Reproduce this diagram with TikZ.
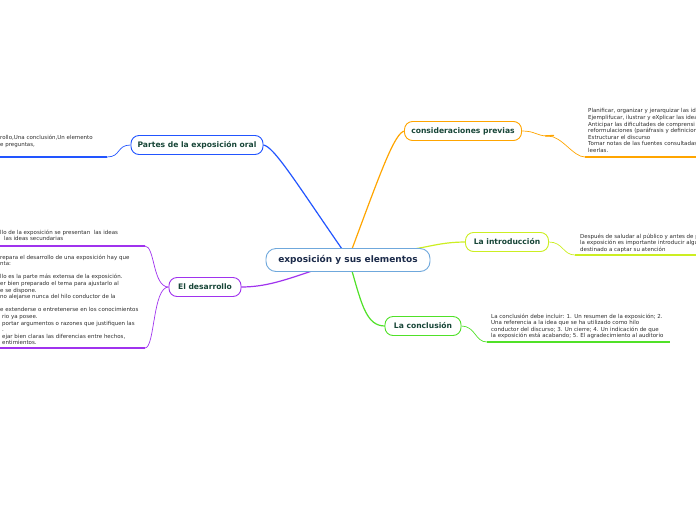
\documentclass[tikz,border=0pt]{standalone}
\usepackage{fontspec}
\setmainfont{DejaVu Sans}
\usetikzlibrary{positioning}
\definecolor{mmblue}{RGB}{34,85,255}
\definecolor{mmorange}{RGB}{255,165,0}
\definecolor{mmlime}{RGB}{204,238,34}
\definecolor{mmgreen}{RGB}{80,225,40}
\definecolor{mmpurple}{RGB}{160,51,238}
\definecolor{mmroot}{RGB}{111,168,220}
\definecolor{mmtitle}{RGB}{24,70,56}
\definecolor{mmnavy}{RGB}{28,43,74}
\definecolor{mmtext}{RGB}{45,45,45}
\tikzset{
  root/.style={draw=mmroot,line width=.9pt,rounded corners=10pt,fill=white,
    minimum width=164pt,minimum height=23pt,text=mmnavy,inner sep=0pt,
    font=\fontsize{9}{10}\selectfont\bfseries},
  topic/.style={draw=#1,line width=.9pt,rounded corners=8pt,fill=white,
    minimum height=19pt,text=mmtitle,inner sep=0pt,
    font=\fontsize{7.6}{8}\selectfont\bfseries},
  notes/.style={anchor=north west,inner sep=0pt,align=left,text=mmtext,
    font=\fontsize{5.5}{6.6}\selectfont},
  branch/.style={draw=#1,line width=1.2pt},
  twig/.style={draw=#1,line width=.7pt},
  underline/.style={draw=#1,line width=1.7pt}
}
\begin{document}
\begin{tikzpicture}[x=1pt,y=-1pt]
\useasboundingbox (0,0) rectangle (696,520);
\clip (0,0) rectangle (696,520);

% main branches
\draw[branch=mmblue] (342,249) .. controls +(-45,-65) and +(10,0) .. (263,145);
\draw[branch=mmorange] (352,249) .. controls +(28,-75) and +(-10,0) .. (405,131);
\draw[branch=mmlime] (414,249) .. controls +(18,-3) and +(-22,0) .. (466,242);
\draw[branch=mmgreen] (352,271) .. controls +(10,35) and +(-18,0) .. (385,326);
\draw[branch=mmpurple] (315,270) .. controls +(-30,10) and +(25,0) .. (241,287);

\node[root] (root) at (348,260) {exposición y sus elementos};
\node[topic=mmblue,minimum width=132pt] (partes) at (197,145) {Partes de la exposición oral};
\node[topic=mmorange,minimum width=117pt] (previas) at (463,131) {consideraciones previas};
\node[topic=mmlime,minimum width=83pt] (intro) at (507,242) {La introducción};
\node[topic=mmgreen,minimum width=76pt] (concl) at (423,326) {La conclusión};
\node[topic=mmpurple,minimum width=72pt] (desarr) at (205,287) {El desarrollo};

% underline ends
\coordinate (pL) at (107,157); \coordinate (pE) at (-2,157);
\coordinate (cM) at (548,136); \coordinate (cL) at (585,157); \coordinate (cE) at (698,157);
\coordinate (iL) at (575,255); \coordinate (iE) at (698,255);
\coordinate (kL) at (487,342); \coordinate (kE) at (670,342);
\coordinate (dA) at (145,246); \coordinate (dAE) at (-2,246);
\coordinate (dB) at (145,348); \coordinate (dBE) at (-2,348);

\draw[twig=mmblue] (partes.west) .. controls +(-14,0) and +(14,0) .. (pL);
\draw[underline=mmblue] (pL) -- (pE);
\draw[twig=mmorange] (previas.east) .. controls +(14,0) and +(-12,0) .. (cM)
  .. controls +(14,0) and +(-12,0) .. (cL);
\draw[line width=1.4pt,mmorange] ([xshift=-3pt]cM) -- ([xshift=6pt,yshift=.5pt]cM);
\draw[underline=mmorange] (cL) -- (cE);
\draw[twig=mmlime] (intro.east) .. controls +(14,0) and +(-12,0) .. (iL);
\draw[underline=mmlime] (iL) -- (iE);
\draw[twig=mmgreen] (concl.east) .. controls +(14,0) and +(-12,0) .. (kL);
\draw[underline=mmgreen] (kL) -- (kE);
\draw[twig=mmpurple] (desarr.west) .. controls +(-16,0) and +(10,0) .. (dA);
\draw[twig=mmpurple] (desarr.west) .. controls +(-16,0) and +(10,0) .. (dB);
\draw[underline=mmpurple] (dA) -- (dAE);
\draw[underline=mmpurple] (dB) -- (dBE);

% notes
\node[notes,font=\fontsize{5.5}{7.5}\selectfont] (partesTxt) at (0,134.5)
  {rollo,Una conclusión,Un elemento\\e preguntas,};
\node[notes] (previasTxt) at (588,108.5)
  {Planificar, organizar y jerarquizar las id\\
   Ejemplifucar, ilustrar y eXplicar las idea\\
   Anticipar las dificultades de comprensi\\
   reformulaciones (paráfrasis y definicior\\
   Estructurar el discurso\\
   Tomar notas de las fuentes consultadas\\
   leerlas.};
\node[notes] (introTxt) at (580,233.5)
  {Después de saludar al público y antes de p\\
   la exposición es importante introducir algu\\
   destinado a captar su atención};
\node[notes] (conclTxt) at (491,313.5)
  {La conclusión debe incluir: 1. Un resumen de la exposición; 2.\\
   Una referencia a la idea que se ha utilizado como hilo\\
   conductor del discurso; 3. Un cierre; 4. Un indicación de que\\
   la exposición está acabando; 5. El agradecimiento al auditorio};
\node[notes] (desarrTxtA) at (0,229.5)
  {llo de la exposición se presentan \ las ideas\\
   \hspace{4pt}las ideas secundarias};
\node[notes] (desarrTxtB) at (0,254.5)
  {repara el desarrollo de una exposición hay que\\
   nta:\\[6.6pt]
   llo es la parte más extensa de la exposición.\\
   er bien preparado el tema para ajustarlo al\\
   e se dispone.\\
   no alejarse nunca del hilo conductor de la\\[6.6pt]
   e extenderse o entretenerse en los conocimientos\\
   \hspace{2pt}rio ya posee.\\
   \hspace{2pt}portar argumentos o razones que justifiquen las\\
   \hspace{2pt}.\\
   \hspace{2pt}ejar bien claras las diferencias entre hechos,\\
   \hspace{2pt}entimientos.};
\end{tikzpicture}
\end{document}
